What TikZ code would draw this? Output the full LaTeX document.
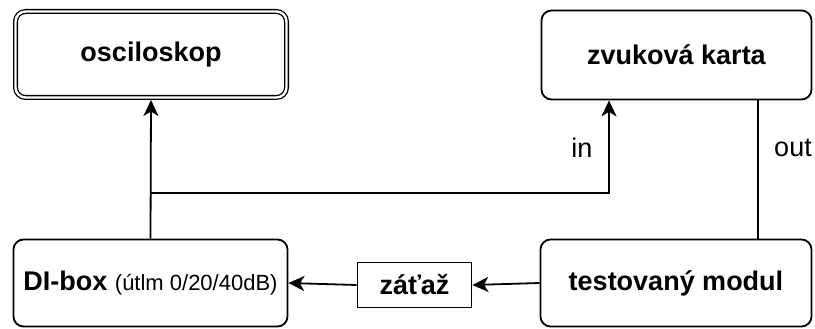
\documentclass[tikz,border=0pt]{standalone}
\usepackage{fontspec}
\setmainfont{Liberation Sans}
\usetikzlibrary{arrows.meta}
\begin{document}
\begin{tikzpicture}[x=1pt,y=-1pt,
  box/.style={draw, line width=1.8pt, rounded corners=10pt, inner sep=0pt, outer sep=0.9pt,
    font=\fontsize{27}{32}\selectfont\bfseries},
  dbox/.style={box, double, line width=1.3pt, double distance=2.4pt, outer sep=2.5pt},
  plainbox/.style={draw, line width=1.8pt, inner sep=0pt, outer sep=0.9pt,
    font=\fontsize{27}{32}\selectfont\bfseries},
  conn/.style={line width=1.8pt},
  arr/.style={conn, -{Stealth[length=16pt,width=15pt,inset=4.5pt]}},
  lbl/.style={font=\fontsize{27}{32}\selectfont, inner sep=0pt}
]
\useasboundingbox (0,0) rectangle (815,329);
\node[dbox, minimum width=271pt, minimum height=86pt] (osc) at (151,54.5) {osciloskop};
\node[box, minimum width=270pt, minimum height=89pt] (zvuk) at (676.5,55) {zvuková karta};
\node[box, minimum width=274pt, minimum height=87pt] (di) at (150.5,283)
  {DI-box {\mdseries\fontsize{22}{26}\selectfont (útlm 0/20/40dB)}};
\node[plainbox, minimum width=114pt, minimum height=45pt] (zat) at (414.5,285) {záťaž};
\node[box, minimum width=271pt, minimum height=87pt] (test) at (676,283) {testovaný modul};
\coordinate (j) at (150,193);
\draw[arr] (di.north) -- (osc.south);
\draw[arr] (j) -| ([xshift=-67.5pt]zvuk.south);
\draw[conn] ([xshift=81.5pt]zvuk.south) -- ([xshift=82pt]test.north);
\draw[arr] (test.west) -- (zat.east);
\draw[arr] (zat.west) -- (di.east);
\node[lbl] (in) at (582,148) {in};
\node[lbl] (out) at (793,148) {out};
\end{tikzpicture}
\end{document}
